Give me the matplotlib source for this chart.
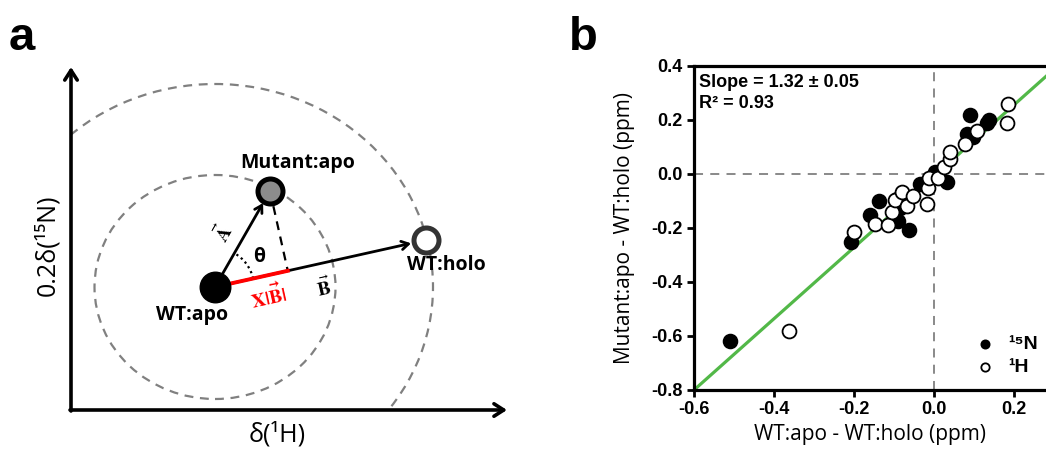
import matplotlib
matplotlib.use('Agg')
import matplotlib.pyplot as plt
import numpy as np
from matplotlib.patches import Ellipse, Arc, Rectangle

plt.rcParams['axes.unicode_minus'] = False

# panel a: schematic peak positions (arbitrary units, origin at axis corner)
wt_apo = np.array([1.44, 1.23])
mutant_apo = np.array([1.99, 2.19])
wt_holo = np.array([3.55, 1.70])
inner_radii = (1.205, 1.12)
outer_radii = (2.18, 2.03)

# panel b: chemical shift differences (ppm)
n15_x = [-0.51, -0.208, -0.16, -0.137, -0.093, -0.085, -0.089, -0.062, -0.035,
         0.003, 0.033, 0.09, 0.082, 0.098, 0.133, 0.138]
n15_y = [-0.62, -0.25, -0.151, -0.10, -0.092, -0.125, -0.175, -0.208, -0.036,
         0.008, -0.03, 0.218, 0.15, 0.138, 0.189, 0.20]
h1_x = [-0.362, -0.20, -0.1475, -0.116, -0.104, -0.097, -0.079, -0.068, -0.053,
        -0.018, -0.014, -0.012, 0.009, 0.024, 0.039, 0.041, 0.078, 0.107, 0.186, 0.182]
h1_y = [-0.58, -0.213, -0.186, -0.19, -0.14, -0.097, -0.065, -0.117, -0.082,
        -0.11, -0.05, -0.015, -0.016, 0.025, 0.054, 0.083, 0.11, 0.161, 0.26, 0.189]
fit_slope = 1.32
fit_intercept = -0.008
xticks = [-0.6, -0.4, -0.2, 0.0, 0.2]
yticks = [-0.8, -0.6, -0.4, -0.2, 0.0, 0.2, 0.4]

label_font = ['Open Sans', 'DejaVu Sans']
bold_font = ['Liberation Sans', 'DejaVu Sans']

fig = plt.figure(figsize=(10.46, 4.5), dpi=100)

# ---- panel a
ax1 = fig.add_axes([0, 0, 540 / 1046, 1])
ax1.set_xlim(-0.71, 4.69)
ax1.set_ylim(-0.40, 4.10)
ax1.axis('off')

axis_arrow = dict(arrowstyle='->,head_length=0.7,head_width=0.45', lw=2.6, color='black',
                  shrinkA=0, shrinkB=0)
ax1.annotate('', xy=(0, 3.43), xytext=(0, -0.01), arrowprops=axis_arrow)
ax1.annotate('', xy=(4.36, 0), xytext=(-0.01, 0), arrowprops=axis_arrow)

clip = Rectangle((0, 0), 10, 10, transform=ax1.transData, visible=False)
ax1.add_patch(clip)
inner = Ellipse(wt_apo, 2 * inner_radii[0], 2 * inner_radii[1], fill=False,
                ec='#808080', ls=(0, (4, 3)), lw=1.6)
outer = Ellipse(wt_apo, 2 * outer_radii[0], 2 * outer_radii[1], fill=False,
                ec='#808080', ls=(0, (4, 3)), lw=1.6)
ax1.add_patch(inner)
ax1.add_patch(outer)
outer.set_clip_path(clip)

vec_a = mutant_apo - wt_apo
vec_b = wt_holo - wt_apo
x_proj = np.dot(vec_a, vec_b) / np.dot(vec_b, vec_b)
foot = wt_apo + x_proj * vec_b

ax1.plot([mutant_apo[0], foot[0]], [mutant_apo[1], foot[1]], color='black',
         ls=(0, (4, 3)), lw=1.6, zorder=2)
vec_arrow = dict(arrowstyle='->,head_length=0.5,head_width=0.3', lw=2, color='black',
                 shrinkA=0)
ax1.annotate('', xy=mutant_apo, xytext=wt_apo, arrowprops=dict(vec_arrow, shrinkB=10))
ax1.annotate('', xy=wt_holo, xytext=wt_apo, arrowprops=dict(vec_arrow, shrinkB=11))
ax1.plot([wt_apo[0], foot[0]], [wt_apo[1], foot[1]], color='red', lw=2.8, zorder=3)

ang_a = np.degrees(np.arctan2(vec_a[1], vec_a[0]))
ang_b = np.degrees(np.arctan2(vec_b[1], vec_b[0]))
ax1.add_patch(Arc(wt_apo, 0.78, 0.78, theta1=ang_b, theta2=ang_a, ls=(0, (1, 1.5)),
                  lw=1.6, color='black'))

ax1.plot(*wt_apo, 'o', ms=22, mfc='black', mec='black', zorder=5)
ax1.plot(*mutant_apo, 'o', ms=18, mfc='#8c8c8c', mec='black', mew=3.6, zorder=5)
ax1.plot(*wt_holo, 'o', ms=18, mfc='white', mec='#333333', mew=3.6, zorder=5)

ax1.text(2.27, 2.47, 'Mutant:apo', ha='center', va='center', fontsize=14,
         fontweight='bold', family=label_font)
ax1.text(1.21, 0.95, 'WT:apo', ha='center', va='center', fontsize=14,
         fontweight='bold', family=label_font)
ax1.text(3.75, 1.45, 'WT:holo', ha='center', va='center', fontsize=14,
         fontweight='bold', family=label_font)
ax1.text(1.88, 1.53, 'θ', ha='center', va='center', fontsize=14,
         fontweight='bold', family=label_font)
ax1.text(1.97, 1.14, r'$\mathbf{X|\vec{B}|}$', ha='center', va='center', fontsize=14,
         color='red', rotation=ang_b, math_fontfamily='stix')
ax1.text(2.53, 1.22, r'$\vec{\mathbf{B}}$', ha='center', va='center', fontsize=14,
         rotation=ang_b, math_fontfamily='stix')
ax1.text(1.52, 1.77, r'$\vec{\mathbf{A}}$', ha='center', va='center', fontsize=14,
         rotation=ang_a, math_fontfamily='stix')

ax1.text(-0.23, 1.65, '0.2δ(¹⁵N)', ha='center', va='center', rotation=90,
         fontsize=18, family=label_font)
ax1.text(2.06, -0.25, 'δ(¹H)', ha='center', va='center', fontsize=18, family=label_font)

fig.text(22 / 1046, 1 - 38 / 450, 'a', ha='center', va='center', fontsize=34,
         fontweight='bold', family=bold_font)
fig.text(583 / 1046, 1 - 38 / 450, 'b', ha='center', va='center', fontsize=34,
         fontweight='bold', family=bold_font)

# ---- panel b
ax2 = fig.add_axes([694 / 1046, 60 / 450, 352 / 1046, 324 / 450])
ax2.set_xlim(-0.6, 0.28)
ax2.set_ylim(-0.8, 0.4)
ax2.axhline(0, color='#808080', ls=(0, (5, 4)), lw=1.3, zorder=1)
ax2.axvline(0, color='#808080', ls=(0, (5, 4)), lw=1.3, zorder=1)

line_x = np.array(ax2.get_xlim())
ax2.plot(line_x, fit_slope * line_x + fit_intercept, color='#52b848', lw=2.3, zorder=2)

ax2.scatter(n15_x, n15_y, s=100, c='black', edgecolors='black', lw=1.2, zorder=3,
            label='¹⁵N')
ax2.scatter(h1_x, h1_y, s=100, c='white', edgecolors='black', lw=1.3, zorder=4,
            label='¹H')

ax2.set_xticks(xticks)
ax2.set_yticks(yticks)
ax2.set_xticklabels(['{:.1f}'.format(v) for v in xticks])
ax2.set_yticklabels(['{:.1f}'.format(v) for v in yticks])
for lab in ax2.get_xticklabels() + ax2.get_yticklabels():
    lab.set_fontweight('bold')
    lab.set_family(bold_font)
    lab.set_fontsize(13)
ax2.tick_params(direction='out', length=5, width=2, pad=3)

for side in ['left', 'bottom', 'top']:
    ax2.spines[side].set_linewidth(2.3)
ax2.spines['right'].set_visible(False)

ax2.set_xlabel('WT:apo - WT:holo (ppm)', fontsize=15, family=label_font, labelpad=4)
ax2.set_ylabel('Mutant:apo - WT:holo (ppm)', fontsize=15, family=label_font, labelpad=12)

ax2.text(0.014, 0.95, 'Slope = 1.32 ± 0.05', transform=ax2.transAxes, ha='left',
         va='center', fontsize=13, fontweight='bold', family=bold_font)
ax2.text(0.014, 0.883, 'R² = 0.93', transform=ax2.transAxes, ha='left',
         va='center', fontsize=13, fontweight='bold', family=bold_font)

leg = ax2.legend(loc='lower right', bbox_to_anchor=(1.0, 0.02), frameon=False,
                 handletextpad=0.2, borderaxespad=0, labelspacing=0.25,
                 markerscale=0.6, prop={'family': bold_font, 'weight': 'bold', 'size': 14})

fig.savefig('out.png', dpi=100)
